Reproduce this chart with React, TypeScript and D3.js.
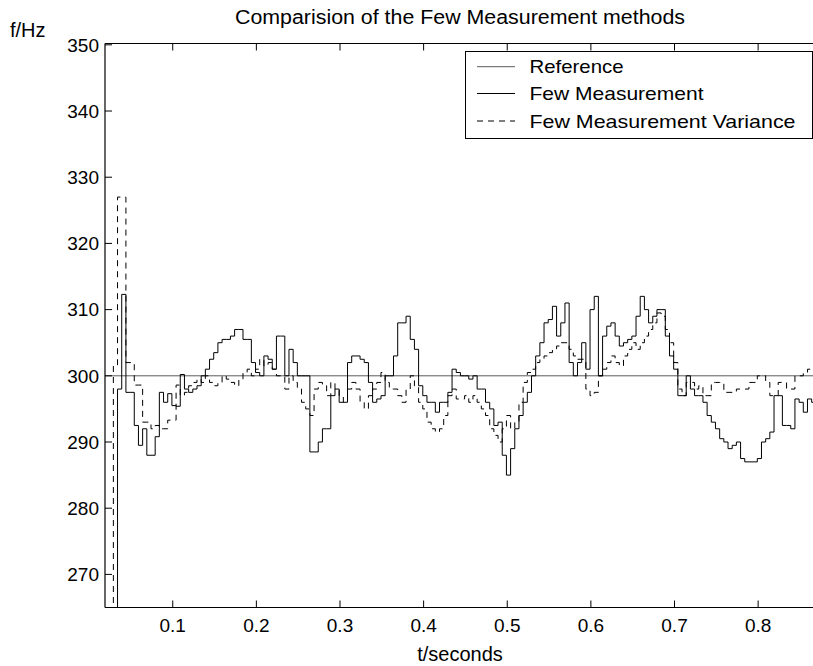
import React from 'react';
import * as d3 from 'd3';

// Sampling of the stepped estimates (seconds)
const T_START = 0.024;
const T_STEP = 0.005;

const REFERENCE_HZ = 300;

// Few Measurement estimate, one value per sample step (Hz)
const fewMeasurement = [
  258, 258, 298, 312.3, 297.5, 297.5, 292.5, 289.5, 292, 288, 288,
  290.8, 297.5, 296, 297.3, 295.5, 295.4, 300.2, 298, 297.5, 298,
  298.5, 300, 301, 302.5, 303.5, 305, 305.5, 305.5, 306, 307,
  307, 305.5, 305.5, 302, 300.5, 300, 303, 302.5, 301, 306,
  306, 300, 304, 302, 300, 300, 300, 288.5, 288.5, 290,
  292, 292, 297, 298, 296, 296, 302, 303, 303, 302.5,
  302, 299, 296, 296.5, 297, 300, 300, 303, 308, 308,
  309, 305.5, 304, 298.5, 297, 296, 296, 294.5, 296, 296,
  297.5, 301, 300.5, 300, 300, 299.5, 300, 298, 298, 296,
  295, 292.5, 293, 288, 285, 289, 292, 294, 296, 297.5,
  300, 303, 305, 308, 308.5, 310.5, 306, 308, 311, 302,
  300, 302, 305, 301, 310, 312, 300, 306, 307.5, 308,
  306, 304.5, 305, 305.5, 306, 309, 312, 310, 308, 309,
  310, 310, 306, 303, 301, 297, 297, 300, 298, 297,
  297, 296, 294, 293, 292, 290.5, 290, 289, 289.5, 290,
  287.5, 287, 287, 287, 287.5, 290, 290.5, 291.5, 297, 297,
  292.5, 292.5, 292, 296.5, 296, 294.5, 296.5, 296, 296,
];

// Few Measurement Variance estimate (Hz)
const fewVariance = [
  258, 301.5, 327, 327, 302, 302, 298.6, 298.6, 293, 293, 292,
  292.5, 292, 292, 293.3, 293.3, 298.6, 297, 297.5, 298.5, 299,
  299.5, 299, 300, 299, 298.5, 299, 300, 299.5, 299, 298.5,
  299.5, 300.5, 301, 300, 301, 302.5, 301.5, 302, 301, 300,
  300, 298, 300, 299, 298, 296, 295, 294, 298, 299,
  298.5, 297, 299, 298, 297, 296, 298, 299, 298, 296,
  295, 297, 298, 299, 300.5, 299, 298, 298, 297, 296,
  298, 300, 298.5, 296, 295, 293, 292, 291.5, 292, 294,
  297, 298, 296.5, 296.5, 297, 296, 297, 296, 295, 294,
  292, 291, 290, 292, 294, 292, 293, 296, 299, 300.5,
  301, 302, 302.5, 303, 303.5, 304, 304.5, 305, 305, 304,
  303, 302.5, 302.5, 298, 297, 297.5, 300, 301, 302, 303,
  302, 301.5, 303, 304, 305, 304, 305, 306, 307, 308,
  309.5, 309, 307, 305, 302, 298, 297, 299, 299, 298,
  298.5, 297, 297, 299, 299, 299, 297.5, 297.5, 297.5, 298,
  298, 298, 299, 299, 300, 300, 299, 297, 297, 299,
  299, 298, 298, 300, 300, 300.5, 301, 301, 301,
];

const xTicks = [0.1, 0.2, 0.3, 0.4, 0.5, 0.6, 0.7, 0.8];
const yTicks = [270, 280, 290, 300, 310, 320, 330, 340, 350];
const legendLabels = ['Reference', 'Few Measurement', 'Few Measurement Variance'];
const legendWidths = [94, 174, 266];

const FONT = 'Liberation Sans, Arial, Helvetica, sans-serif';

export default function App() {
  const W = 813;
  const H = 666;
  const left = 105;
  const right = 815;
  const top = 43.5;
  const bottom = 607.5;

  const x = d3.scaleLinear().domain([0.019, 0.868]).range([left, right]);
  const y = d3.scaleLinear().domain([265, 350.2]).range([bottom, top]);

  const toPoints = (vals: number[]): [number, number][] => {
    const pts: [number, number][] = vals.map((v, i) => [T_START + i * T_STEP, v]);
    pts.push([T_START + vals.length * T_STEP, vals[vals.length - 1]]);
    return pts;
  };

  const stairs = d3
    .line<[number, number]>()
    .x((d) => x(d[0]))
    .y((d) => y(d[1]))
    .curve(d3.curveStepAfter);

  const refPath = d3
    .line<[number, number]>()
    .x((d) => x(d[0]))
    .y((d) => y(d[1]))([
    [0.019, REFERENCE_HZ],
    [0.868, REFERENCE_HZ],
  ]);

  const tickLen = 7;
  const legend = { x0: 465.5, y0: 51.5, x1: 812.5, y1: 138.5 };
  const legendRows = [66.7, 93.5, 121];
  const refColor = '#5a5a5a';

  return (
    <svg
      width={W}
      height={H}
      style={{ position: 'absolute', left: 0, top: 0, background: '#fff' }}
      fontFamily={FONT}
    >
      <defs>
        <clipPath id="plot-area">
          <rect x={left} y={top} width={right - left} height={bottom - top} />
        </clipPath>
      </defs>
      <rect x={0} y={0} width={W} height={H} fill="#fff" />

      {/* data */}
      <g clipPath="url(#plot-area)" fill="none">
        <path d={refPath || ''} stroke={refColor} strokeWidth={1} />
        <path d={stairs(toPoints(fewMeasurement)) || ''} stroke="#000" strokeWidth={1} />
        <path
          d={stairs(toPoints(fewVariance)) || ''}
          stroke="#000"
          strokeWidth={1}
          strokeDasharray="6,5"
        />
      </g>

      {/* axes frame */}
      <g stroke="#000" strokeWidth={1.2} fill="none">
        <line x1={left} y1={top} x2={right} y2={top} />
        <line x1={left} y1={bottom} x2={right} y2={bottom} />
        <line x1={left} y1={top} x2={left} y2={bottom} />
      </g>

      {/* ticks, drawn inward */}
      <g stroke="#000" strokeWidth={1}>
        {xTicks.map((t) => (
          <g key={t}>
            <line x1={x(t)} y1={bottom} x2={x(t)} y2={bottom - tickLen} />
            <line x1={x(t)} y1={top} x2={x(t)} y2={top + tickLen} />
          </g>
        ))}
        {yTicks.map((v) => (
          <line key={v} x1={left} y1={y(v)} x2={left + tickLen} y2={y(v)} />
        ))}
      </g>

      <g fontSize={19} fill="#000">
        {xTicks.map((t) => (
          <text key={t} x={x(t)} y={632} textAnchor="middle">
            {t.toFixed(1)}
          </text>
        ))}
        {yTicks.map((v) => (
          <text key={v} x={99} y={y(v) + 6.8} textAnchor="end">
            {v}
          </text>
        ))}
      </g>

      {/* labels */}
      <text x={460} y={24} fontSize={20} textAnchor="middle" textLength={450} lengthAdjust="spacingAndGlyphs">
        Comparision of the Few Measurement methods
      </text>
      <text x={10} y={36.5} fontSize={20}>
        f/Hz
      </text>
      <text x={460} y={661} fontSize={20} textAnchor="middle">
        t/seconds
      </text>

      {/* legend */}
      <rect
        x={legend.x0}
        y={legend.y0}
        width={legend.x1 - legend.x0}
        height={legend.y1 - legend.y0}
        fill="#fff"
        stroke="#000"
        strokeWidth={1}
      />
      {legendLabels.map((label, i) => (
        <g key={label}>
          <line
            x1={477}
            x2={515}
            y1={legendRows[i]}
            y2={legendRows[i]}
            stroke={i === 0 ? refColor : '#000'}
            strokeWidth={1}
            strokeDasharray={i === 2 ? '6,5' : undefined}
          />
          <text
            x={529.5}
            y={legendRows[i] + 6.5}
            fontSize={18.5}
            textLength={legendWidths[i]}
            lengthAdjust="spacingAndGlyphs"
          >
            {label}
          </text>
        </g>
      ))}
    </svg>
  );
}
